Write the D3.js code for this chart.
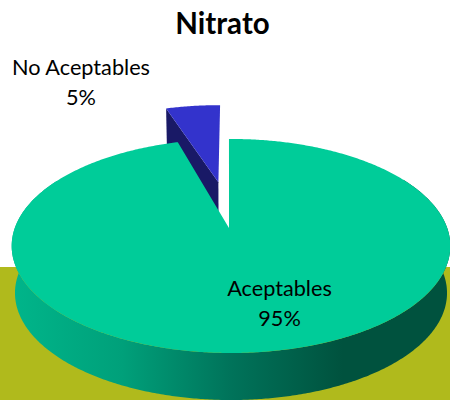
<!DOCTYPE html>
<html><head><meta charset="utf-8">
<script src="https://cdn.jsdelivr.net/npm/d3@7"></script>
<style>html,body{margin:0;background:#fff}svg{display:block}text{font-family:Lato,"Open Sans",sans-serif;fill:#000}</style>
</head><body><svg id="c" width="450" height="400"></svg>
<script>
const title = "Nitrato";
const categories = ["Aceptables", "No Aceptables"];
const values = [95, 5];
const percentLabels = ["95%", "5%"];
const topColors = ["#00CC99", "#3333CC"];
const cutColor = "#191966";
const groundColor = "#B0BA1C";
const wallStops = [[0, "#00B58A"], [0.25, "#00A07A"], [0.5, "#00735A"], [0.76, "#00523E"], [1, "#00523E"]];

const svg = d3.select("#c");
const P = {cx: 231, cy: 228, A: 216.2, B: 104.0, k: 0.168, warp: -0.06, twist: -0.011, apexShift: -2};
const depth = 47, lowerScale = 0.985;
const burst = {u: -0.063, v: 0.474};

function project(a, r, off, lower) {
  const a2 = off ? a : a + P.warp * Math.sin(2 * a) + P.twist * (1 + Math.cos(a)) / 2;
  const u = r * Math.sin(a2) + (off ? off.u : 0), v = r * Math.cos(a2) + (off ? off.v : 0);
  const w = 1 + P.k * v;
  const x = P.cx + (off ? 0 : P.apexShift * (1 - r)) + (lower ? lowerScale : 1) * P.A * u / w;
  const y = P.cy - P.B * v / w + (lower ? depth : 0);
  return [x, y];
}
const line = d3.line();
const arcPts = (a0, a1, off, lower) => {
  const n = Math.max(2, Math.ceil(Math.abs(a1 - a0) / 0.01));
  return d3.range(n + 1).map(i => project(a0 + (a1 - a0) * i / n, 1, off, lower));
};

// ground
const groundY = d3.scaleLinear().domain([0, 1]).range([267, 400]);
svg.append("rect").attr("x", 0).attr("width", 450).attr("y", groundY(0)).attr("height", groundY(1) - groundY(0)).attr("fill", groundColor);

// wall gradient
const grad = svg.append("defs").append("linearGradient").attr("id", "wall")
  .attr("gradientUnits", "userSpaceOnUse").attr("x1", 14).attr("x2", 447).attr("y1", 0).attr("y2", 0);
grad.selectAll("stop").data(wallStops).join("stop").attr("offset", d => d[0]).attr("stop-color", d => d[1]);

const arcs = d3.pie().sort(null).value(d => d)(values);
const main = arcs[0], slice = arcs[1];

// exploded slice: cut face, then top
const sliceOff = burst;
const apexTop = project(0, 0, sliceOff, false), apexLow = project(0, 0, sliceOff, true);
svg.append("path").attr("fill", cutColor).attr("d",
  line([apexTop, project(slice.startAngle, 1, sliceOff, false), project(slice.startAngle, 1, sliceOff, true), apexLow]) + "Z");
svg.append("path").attr("fill", topColors[1]).attr("d",
  line([apexTop, ...arcPts(slice.startAngle, slice.endAngle, sliceOff, false)]) + "Z");

// main slice wall (front part) and top
const wa0 = Math.max(main.startAngle, Math.PI * 0.35), wa1 = Math.min(main.endAngle, Math.PI * 1.65);
svg.append("path").attr("fill", "url(#wall)").attr("d",
  line([...arcPts(wa0, wa1, null, false), ...arcPts(wa1, wa0, null, true)]) + "Z");
svg.append("path").attr("fill", topColors[0]).attr("d",
  line([project(0, 0), ...arcPts(main.startAngle, main.endAngle, null, false)]) + "Z");

// text
svg.append("text").attr("x", 222.5).attr("y", 34).attr("text-anchor", "middle")
  .attr("font-size", 29.5).attr("font-weight", 700).text(title);
const labelPos = [[279.5, 296, 326], [81, 75, 105]];
categories.forEach((c, i) => {
  svg.append("text").attr("x", labelPos[i][0]).attr("y", labelPos[i][1]).attr("text-anchor", "middle").attr("font-size", 21.7).text(c);
  svg.append("text").attr("x", labelPos[i][0]).attr("y", labelPos[i][2]).attr("text-anchor", "middle").attr("font-size", 21.7).text(percentLabels[i]);
});
</script></body></html>
